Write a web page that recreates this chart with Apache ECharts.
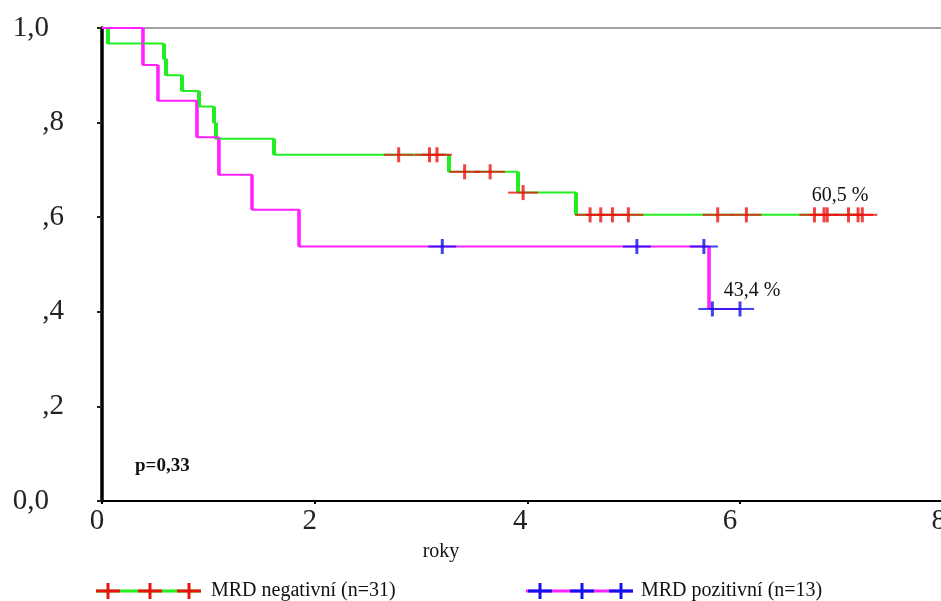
<!DOCTYPE html>
<html><head><meta charset="utf-8">
<script src="https://cdn.jsdelivr.net/npm/echarts@6/dist/echarts.min.js"></script>
<style>html,body{margin:0;padding:0;background:#fff}#c{width:941px;height:601px}</style>
</head><body><div id="c"></div>
<script>
// ---- data ----
const xTickValues = [0, 2, 4, 6, 8];
const yTickValues = [0, 0.2, 0.4, 0.6, 0.8, 1.0];
const yTickLabels = ['0,0', ',2', ',4', ',6', ',8', '1,0'];

const negName = 'MRD negativní (n=31)';
const negEventTimes = [0.05, 0.577, 0.60, 0.75, 0.91, 1.047, 1.066, 1.618, 3.258, 3.91, 4.456];
const negSurvival   = [0.967, 0.935, 0.900, 0.867, 0.834, 0.800, 0.766, 0.732, 0.696, 0.652, 0.605];
const negCensorTimes = [2.79, 3.08, 3.15, 3.41, 3.65, 3.96, 4.59, 4.69, 4.80, 4.95, 5.79, 6.06, 6.70, 6.79, 6.82, 7.02, 7.11, 7.15];

const posName = 'MRD pozitivní (n=13)';
const posEventTimes = [0.383, 0.524, 0.891, 1.094, 1.411, 1.853, 5.71];
const posSurvival   = [0.922, 0.846, 0.769, 0.690, 0.616, 0.538, 0.406];
const posCensorTimes = [3.20, 5.03, 5.66, 5.74, 6.00];

const pValueText = 'p=0,33';
const xAxisTitle = 'roky';
const negFinalText = '60,5 %';
const posFinalText = '43,4 %';

// ---- helpers ----
function survAt(times, surv, t) {
  let v = 1;
  for (let i = 0; i < times.length; i++) if (times[i] <= t) v = surv[i];
  return v;
}
function stepData(times, surv, censors) {
  const end = Math.max(times[times.length - 1], ...censors);
  const d = [[0, 1]];
  times.forEach((t, i) => d.push([t, surv[i]]));
  d.push([end, surv[surv.length - 1]]);
  return d;
}
function dropSegments(times, surv) {
  return times.map((t, i) => ({ coords: [[t, i === 0 ? 1 : surv[i - 1]], [t, surv[i]]] }));
}
function censorData(times, surv, censors) {
  return censors.map(t => [t, survAt(times, surv, t)]);
}

const GREEN = '#22ee22', MAGENTA = '#ff22ff', RED = '#ee1111', BLUE = '#1111ee';
const SERIF = '"Liberation Serif", "DejaVu Serif", serif';

function groupSeries(times, surv, censors, lineColor, markColor, hw, drawW) {
  const cd = censorData(times, surv, censors);
  return [
    { type: 'line', step: 'end', data: stepData(times, surv, censors), symbol: 'none',
      lineStyle: { color: lineColor, width: 2 }, z: 3, silent: true },
    { type: 'lines', coordinateSystem: 'cartesian2d', data: dropSegments(times, surv),
      lineStyle: { color: lineColor, width: drawW, opacity: 1 }, z: 3, silent: true },
    { type: 'scatter', data: cd, symbol: 'rect', symbolSize: [hw, 2],
      itemStyle: { color: markColor }, z: 4, silent: true },
    { type: 'scatter', data: cd, symbol: 'rect', symbolSize: [3, 15],
      itemStyle: { color: markColor }, z: 5, silent: true }
  ];
}

function legendItem(x0, x1, ticks, lineColor, markColor, tx, label) {
  const y = 591;
  const els = [{ type: 'line', shape: { x1: x0, y1: y, x2: x1, y2: y }, style: { stroke: lineColor, lineWidth: 3 } }];
  ticks.forEach(x => {
    els.push({ type: 'line', shape: { x1: x - 12, y1: y, x2: x + 12, y2: y }, style: { stroke: markColor, lineWidth: 3 } });
    els.push({ type: 'line', shape: { x1: x, y1: y - 8, x2: x, y2: y + 8 }, style: { stroke: markColor, lineWidth: 3 } });
  });
  els.push({ type: 'text', x: tx, y: y, style: { text: label, font: '20px ' + SERIF, fill: '#111', textVerticalAlign: 'middle' } });
  return els;
}

// x label horizontal shift (px) to the left of each tick, as seen in the reference
const xLabelShift = [5, 5, 7, 10, 14];
const xRich = {};
xLabelShift.forEach((s, i) => {
  xRich['l' + i] = { fontFamily: SERIF, fontSize: 29, color: '#222', padding: [0, 2 * s, 0, 0] };
});

const chart = echarts.init(document.getElementById('c'), null, { renderer: 'canvas' });
chart.setOption({
  animation: false,
  backgroundColor: '#fff',
  grid: { left: 102, top: 28, width: 850.7, height: 473, outerBoundsMode: 'none', containLabel: false,
    show: true, borderColor: '#444', borderWidth: 1 },
  xAxis: {
    type: 'value', min: xTickValues[0], max: xTickValues[xTickValues.length - 1], interval: 2,
    splitLine: { show: false },
    axisLine: { lineStyle: { color: '#000', width: 2 } },
    axisTick: { length: 3, lineStyle: { color: '#000', width: 2 } },
    axisLabel: {
      margin: 6, showMaxLabel: true,
      formatter: v => {
        const i = xTickValues.findIndex(t => Math.abs(t - v) < 1e-6);
        return '{l' + Math.max(i, 0) + '|' + v + '}';
      },
      rich: xRich
    }
  },
  yAxis: {
    type: 'value', min: 0, max: 1, interval: 0.2,
    splitLine: { show: false },
    axisLine: { lineStyle: { color: '#000', width: 3.5 } },
    axisTick: { length: 5, lineStyle: { color: '#222', width: 2 } },
    axisLabel: {
      margin: 38,
      formatter: v => {
        const i = yTickValues.findIndex(t => Math.abs(t - v) < 1e-6);
        const s = i >= 0 ? yTickLabels[i] : '';
        return s.charAt(0) === ',' ? '{a|' + s + '}' : '{b|' + s + '}';
      },
      rich: {
        a: { fontFamily: SERIF, fontSize: 29, color: '#222' },
        b: { fontFamily: SERIF, fontSize: 29, color: '#222', padding: [0, 15, 0, 0] }
      }
    }
  },
  series: [
    ...groupSeries(negEventTimes, negSurvival, negCensorTimes, GREEN, RED, 30, 4),
    ...groupSeries(posEventTimes, posSurvival, posCensorTimes, MAGENTA, BLUE, 28, 3.5)
  ],
  graphic: [
    { type: 'text', x: 135, y: 466, style: { text: pValueText, font: 'bold 19px ' + SERIF, fill: '#111', textVerticalAlign: 'middle' } },
    { type: 'text', x: 441, y: 552, style: { text: xAxisTitle, font: '20px ' + SERIF, fill: '#111', textAlign: 'center', textVerticalAlign: 'middle' } },
    { type: 'text', x: 840, y: 196, style: { text: negFinalText, font: '20px ' + SERIF, fill: '#111', textAlign: 'center', textVerticalAlign: 'middle' } },
    { type: 'text', x: 752, y: 291, style: { text: posFinalText, font: '20px ' + SERIF, fill: '#111', textAlign: 'center', textVerticalAlign: 'middle' } },
    ...legendItem(96, 201, [108, 150, 189], GREEN, RED, 211, negName),
    ...legendItem(526, 633, [540, 582, 621], MAGENTA, BLUE, 641, posName)
  ]
});
</script>
</body></html>
